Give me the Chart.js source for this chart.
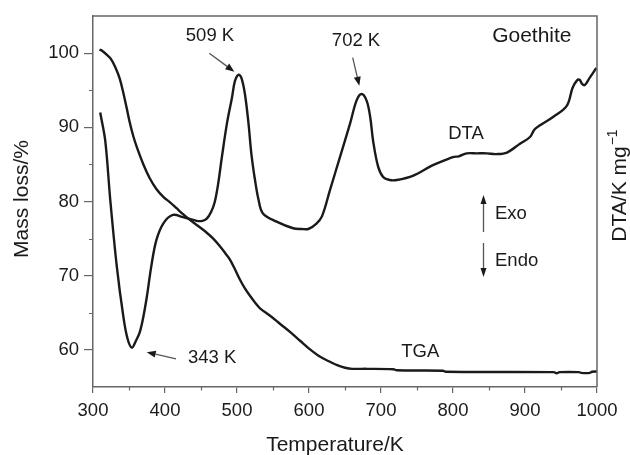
<!DOCTYPE html>
<html>
<head>
<meta charset="utf-8">
<script src="https://cdn.jsdelivr.net/npm/chart.js@4.4.0/dist/chart.umd.min.js"></script>
<style>
html, body { margin: 0; padding: 0; background: #fff; }
#GoethiteDiagram { width: 630px; height: 455px; }
</style>
</head>
<body>
<div id="GoethiteDiagram"><canvas id="GoethiteCanvas" width="630" height="455"></canvas></div>
<script>
// TGA curve, mass loss in %
var tgaTemp = [309, 313, 319, 325, 331, 337, 342, 347, 351, 356, 361, 370, 379, 388, 398, 407, 416, 425, 435, 446, 458, 467, 476, 484, 490, 497, 504, 511, 518, 525, 532, 546, 560, 574, 588, 601, 615, 629, 640, 650, 660, 680, 717, 722, 786, 790, 940, 944, 948, 975, 978, 990, 993, 1000];
var tgaMass = [100.5, 100.3, 99.8, 99.2, 98.1, 96.6, 94.7, 92.5, 90.7, 88.8, 87.3, 85.0, 83.1, 81.7, 80.6, 79.9, 79.1, 78.3, 77.5, 76.7, 75.8, 75.0, 74.0, 73.0, 72.2, 70.9, 69.5, 68.3, 67.3, 66.4, 65.6, 64.6, 63.5, 62.4, 61.2, 60.1, 59.1, 58.4, 57.9, 57.6, 57.45, 57.45, 57.4, 57.25, 57.2, 57.05, 57.0, 56.85, 57.0, 57.0, 56.9, 56.9, 57.05, 57.1];

// DTA curve, read on the same vertical scale
var dtaTemp = [310, 317, 324, 333, 342, 348, 354, 360, 365, 370, 375, 381, 388, 398, 411, 425, 444, 452, 458, 464, 469, 474, 479, 486, 493, 497, 502, 506, 511, 516, 520, 525, 530, 536, 555, 578, 590, 599, 610, 618, 629, 643, 657, 666, 673, 680, 685, 689, 696, 703, 712, 722, 745, 768, 777, 800, 808, 819, 833, 847, 860, 875, 893, 907, 914, 939, 958, 966, 972, 976, 979, 983, 990, 999];
var dtaSignal = [92.0, 88.2, 80.2, 71.3, 64.6, 61.5, 60.3, 61.3, 62.4, 64.5, 67.3, 71.3, 74.8, 77.1, 78.2, 77.9, 77.4, 77.4, 77.7, 78.6, 79.9, 82.5, 86.0, 90.5, 94.0, 96.2, 97.1, 96.7, 94.5, 90.5, 86.4, 82.9, 80.2, 78.4, 77.3, 76.4, 76.3, 76.3, 77.0, 78.0, 81.5, 86.0, 90.5, 93.6, 94.5, 93.6, 91.4, 88.2, 84.7, 83.3, 82.9, 82.9, 83.5, 84.7, 85.1, 86.0, 86.1, 86.5, 86.5, 86.5, 86.4, 86.6, 87.8, 88.7, 89.8, 91.4, 92.9, 95.3, 96.3, 96.4, 95.9, 95.7, 96.7, 98.0];

// axis ticks
var xTicks = [300, 400, 500, 600, 700, 800, 900, 1000];
var xMinorTicks = [350, 450, 550, 650, 750, 850, 950];
var yTicks = [60, 70, 80, 90, 100];
var yMinorTicks = [65, 75, 85, 95];

// peak labels: text, label position, arrow start, arrow end (data units)
var peakLabels = ['509 K', '702 K', '343 K'];
var peakLabelAt = [[462.5, 102.3], [665.3, 101.7], [465.5, 58.9]];
var peakArrowFrom = [[461.5, 100.0], [660.7, 99.4], [415.3, 58.8]];
var peakArrowTo = [[496.3, 97.5], [669.9, 95.6], [374.6, 59.7]];

var FONT = '"Liberation Sans", Arial, Helvetica, sans-serif';
var AXIS_COLOR = '#666';
var INK = '#1a1a1a';

function toPoints(xs, ys) {
    var pts = [];
    for (var i = 0; i < xs.length; ++i) {
        pts.push({x: xs[i], y: ys[i]});
    }
    return pts;
}

function drawArrow(ctx, x1, y1, x2, y2, lineColor, headLen, headWidth) {
    var ang = Math.atan2(y2 - y1, x2 - x1);
    var bx = x2 - headLen * Math.cos(ang);
    var by = y2 - headLen * Math.sin(ang);
    ctx.strokeStyle = lineColor;
    ctx.lineWidth = 1.3;
    ctx.beginPath();
    ctx.moveTo(x1, y1);
    ctx.lineTo(bx, by);
    ctx.stroke();
    ctx.fillStyle = INK;
    ctx.beginPath();
    ctx.moveTo(x2, y2);
    ctx.lineTo(bx + headWidth / 2 * Math.sin(ang), by - headWidth / 2 * Math.cos(ang));
    ctx.lineTo(bx - headWidth / 2 * Math.sin(ang), by + headWidth / 2 * Math.cos(ang));
    ctx.closePath();
    ctx.fill();
}

var decorPlugin = {
    id: 'decor',
    afterDraw: function (chart) {
        var ctx = chart.ctx;
        var area = chart.chartArea;
        var xs = chart.scales.x;
        var ys = chart.scales.y;
        ctx.save();

        // top and right frame lines
        ctx.strokeStyle = AXIS_COLOR;
        ctx.lineWidth = 1.5;
        ctx.beginPath();
        ctx.moveTo(area.left, area.top);
        ctx.lineTo(area.right, area.top);
        ctx.lineTo(area.right, area.bottom);
        ctx.stroke();

        // minor ticks
        ctx.lineWidth = 1.2;
        ctx.beginPath();
        xMinorTicks.forEach(function (v) {
            var px = Math.round(xs.getPixelForValue(v)) + 0.5;
            ctx.moveTo(px, area.bottom);
            ctx.lineTo(px, area.bottom + 3.5);
        });
        yMinorTicks.forEach(function (v) {
            var py = Math.round(ys.getPixelForValue(v)) + 0.5;
            ctx.moveTo(area.left, py);
            ctx.lineTo(area.left - 4, py);
        });
        ctx.stroke();

        // peak labels with arrows
        ctx.font = '18.5px ' + FONT;
        ctx.textAlign = 'center';
        ctx.textBaseline = 'middle';
        for (var i = 0; i < peakLabels.length; ++i) {
            ctx.fillStyle = INK;
            ctx.fillText(peakLabels[i], xs.getPixelForValue(peakLabelAt[i][0]), ys.getPixelForValue(peakLabelAt[i][1]));
            drawArrow(ctx,
                xs.getPixelForValue(peakArrowFrom[i][0]), ys.getPixelForValue(peakArrowFrom[i][1]),
                xs.getPixelForValue(peakArrowTo[i][0]), ys.getPixelForValue(peakArrowTo[i][1]),
                '#555', 9, 7);
        }

        // curve names and sample name
        ctx.fillStyle = INK;
        ctx.fillText('DTA', xs.getPixelForValue(818), ys.getPixelForValue(89.1));
        ctx.fillText('TGA', xs.getPixelForValue(754.6), ys.getPixelForValue(59.7));
        ctx.font = '21px ' + FONT;
        ctx.fillText('Goethite', xs.getPixelForValue(909.5), ys.getPixelForValue(102.3));

        // Exo / Endo markers
        var ax = 483.5;
        drawArrow(ctx, ax, 232, ax, 195, '#555', 9, 6);
        drawArrow(ctx, ax, 243, ax, 277, '#555', 9, 6);
        ctx.font = '18.5px ' + FONT;
        ctx.textAlign = 'left';
        ctx.fillStyle = INK;
        ctx.fillText('Exo', 495, 213.5);
        ctx.fillText('Endo', 495, 261);

        // axis titles
        ctx.font = '21px ' + FONT;
        ctx.textAlign = 'center';
        ctx.textBaseline = 'alphabetic';
        ctx.fillText('Temperature/K', 335, 451);

        ctx.save();
        ctx.translate(28, 199);
        ctx.rotate(-Math.PI / 2);
        ctx.fillText('Mass loss/%', 0, 0);
        ctx.restore();

        // right title with superscript
        ctx.save();
        ctx.translate(626, 186);
        ctx.rotate(-Math.PI / 2);
        ctx.font = '21px ' + FONT;
        var main = 'DTA/K mg';
        var mainW = ctx.measureText(main).width;
        ctx.font = '14px ' + FONT;
        var supW = ctx.measureText('\u22121').width;
        var startX = -(mainW + supW) / 2;
        ctx.textAlign = 'left';
        ctx.font = '21px ' + FONT;
        ctx.fillText(main, startX, 0);
        ctx.font = '14px ' + FONT;
        ctx.fillText('\u22121', startX + mainW + 1, -9);
        ctx.restore();

        ctx.restore();
    }
};

document.addEventListener('DOMContentLoaded', function () {
    var canvas = document.getElementById('GoethiteCanvas');

    var lineStyle = {
        borderColor: INK,
        borderWidth: 2.4,
        pointRadius: 0,
        fill: false,
        tension: 0.35
    };

    new Chart(canvas, {
        type: 'line',
        data: {
            datasets: [
                Object.assign({label: 'TGA', data: toPoints(tgaTemp, tgaMass)}, lineStyle),
                Object.assign({label: 'DTA', data: toPoints(dtaTemp, dtaSignal)}, lineStyle)
            ]
        },
        options: {
            responsive: false,
            animation: false,
            devicePixelRatio: 1,
            layout: {padding: {left: 0, right: 33, top: 15, bottom: 0}},
            plugins: {
                legend: {display: false},
                tooltip: {enabled: false}
            },
            scales: {
                x: {
                    type: 'linear',
                    min: 300,
                    max: 1000,
                    afterBuildTicks: function (axis) {
                        axis.ticks = xTicks.map(function (v) { return {value: v}; });
                    },
                    afterFit: function (axis) { axis.height = 68; },
                    grid: {drawOnChartArea: false, drawTicks: true, tickLength: 6, color: AXIS_COLOR, lineWidth: 1.2},
                    border: {display: true, color: AXIS_COLOR, width: 1.5},
                    ticks: {
                        font: {family: FONT, size: 18.5}, color: INK, padding: 7, maxRotation: 0, autoSkip: false,
                        callback: function (value) { return String(value); }
                    }
                },
                y: {
                    type: 'linear',
                    min: 55,
                    max: 105,
                    afterBuildTicks: function (axis) {
                        axis.ticks = yTicks.map(function (v) { return {value: v}; });
                    },
                    afterFit: function (axis) { axis.width = 93; },
                    grid: {drawOnChartArea: false, drawTicks: true, tickLength: 9, color: AXIS_COLOR, lineWidth: 1.2},
                    border: {display: true, color: AXIS_COLOR, width: 1.5},
                    ticks: {
                        font: {family: FONT, size: 18.5}, color: INK, padding: 5, autoSkip: false,
                        callback: function (value) { return String(value); }
                    }
                }
            }
        },
        plugins: [decorPlugin]
    });
});
</script>
</body>
</html>
